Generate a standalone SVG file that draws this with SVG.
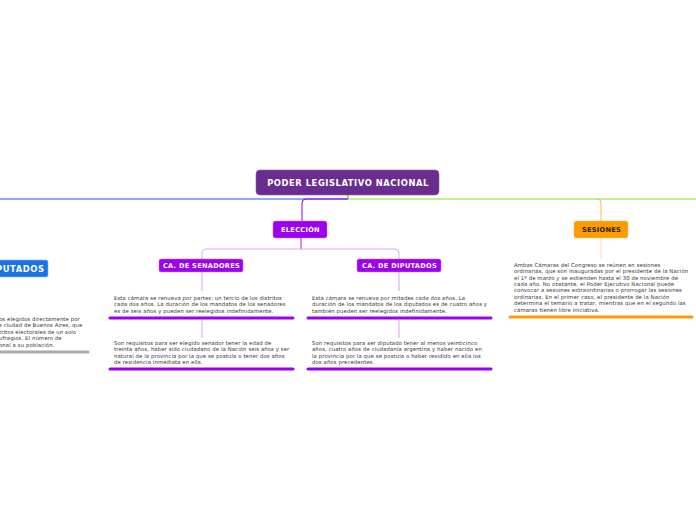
<svg xmlns="http://www.w3.org/2000/svg" width="696" height="520" viewBox="0 0 696 520">
<style>
.t{font-family:"DejaVu Sans","Liberation Sans",sans-serif;font-size:5.3px;letter-spacing:0.12px;fill:#333}
.h{font-family:"DejaVu Sans","Liberation Sans",sans-serif;font-weight:bold;text-anchor:middle}
.s{font-size:6.6px;letter-spacing:0.3px}
.c{fill:none;stroke-width:1}
</style>
<rect width="696" height="520" fill="#fff"/>
<g id="connectors">
<line x1="0" y1="199" x2="348" y2="199" stroke="#1f5ad8" stroke-width="1"/>
<line x1="348" y1="199" x2="696" y2="199" stroke="#86dc2a" stroke-width="1"/>
<line x1="348" y1="194" x2="348" y2="199" stroke="#8a9a2a" stroke-width="1"/>
<path class="c" d="M348 199 H306 Q302 199 302 203 V221" stroke="#9a00ee"/>
<path class="c" d="M597 199 Q601 199 601 203 V221" stroke="#ffb84a"/>
<line x1="301" y1="238" x2="301" y2="249" stroke="#a020f0"/>
<path class="c" d="M301 249 H206 Q202 249 202 253 V259 M301 249 H395 Q399 249 399 253 V259" stroke="#dca8fa"/>
<path class="c" d="M202 272 V291 M202 320 V338 M399 272 V291 M399 320 V338" stroke="#d4a6f6"/>
<line x1="601" y1="238" x2="601" y2="259" stroke="#ffdca6"/>
</g>
<g id="main">
<rect x="256" y="170" width="183" height="25" rx="4" fill="#682d8f" stroke="#8a5aad" stroke-width="0.6"/>
<text class="h" x="348" y="185.8" font-size="8.4" letter-spacing="0.55" fill="#fff">PODER LEGISLATIVO NACIONAL</text>
</g>
<g id="eleccion">
<rect x="273" y="221" width="54" height="17" rx="2.5" fill="#9d00ee" stroke="#c070ff" stroke-width="0.5"/>
<text class="h s" x="300.5" y="232.2" fill="#fff">ELECCIÓN</text>
</g>
<g id="sesiones">
<rect x="574" y="221" width="54" height="17" rx="2.5" fill="#ff9a00" stroke="#ffc060" stroke-width="0.5"/>
<text class="h s" x="601.5" y="232.2" fill="#222">SESIONES</text>
</g>
<g id="senadores">
<rect x="159" y="259" width="84" height="13" rx="2" fill="#9d00ee" stroke="#c070ff" stroke-width="0.5"/>
<text class="h s" x="201.5" y="268" fill="#fff">CA. DE SENADORES</text>
</g>
<g id="diputados">
<rect x="357" y="259" width="84" height="13" rx="2" fill="#9d00ee" stroke="#c070ff" stroke-width="0.5"/>
<text class="h s" x="399.5" y="268" fill="#fff">CA. DE DIPUTADOS</text>
</g>
<g id="cam-diputados-left">
<rect x="-40" y="260" width="88" height="17" rx="2" fill="#1a72e6" stroke="#8ab8f4" stroke-width="0.6"/>
<text class="h" x="44.5" y="272" font-size="8.4" letter-spacing="0.55" fill="#fff" style="text-anchor:end">DIPUTADOS</text>
</g>
<g id="left-text">
<text class="t"><tspan x="-1" y="320.5">os elegidos directamente por</tspan><tspan x="-1" y="327">s ciudad de Buenos Aires, que</tspan><tspan x="-1" y="333.5">tritos electorales de un solo</tspan><tspan x="-1" y="340">ufragios. El número de</tspan><tspan x="-1" y="346.5">onal a su población.</tspan></text>
<line x1="0" y1="352" x2="88" y2="352" stroke="#aaa" stroke-width="3" stroke-linecap="round"/>
</g>
<g id="sen-1">
<text class="t"><tspan x="114" y="299.8">Esta cámara se renueva por partes: un tercio de los distritos</tspan><tspan x="114" y="306.3">cada dos años. La duración de los mandatos de los senadores</tspan><tspan x="114" y="312.8">es de seis años y pueden ser reelegidos indefinidamente.</tspan></text>
<line x1="110" y1="318" x2="293" y2="318" stroke="#9d00ee" stroke-width="3" stroke-linecap="round"/>
</g>
<g id="sen-2">
<text class="t"><tspan x="114" y="344.8">Son requisitos para ser elegido senador tener la edad de</tspan><tspan x="114" y="351.3">treinta años, haber sido ciudadano de la Nación seis años y ser</tspan><tspan x="114" y="357.8">natural de la provincia por la que se postula o tener dos años</tspan><tspan x="114" y="364.3">de residencia inmediata en ella.</tspan></text>
<line x1="110" y1="369" x2="293" y2="369" stroke="#9d00ee" stroke-width="3" stroke-linecap="round"/>
</g>
<g id="dip-1">
<text class="t"><tspan x="312" y="299.8">Esta cámara se renueva por mitades cada dos años. La</tspan><tspan x="312" y="306.3">duración de los mandatos de los diputados es de cuatro años y</tspan><tspan x="312" y="312.8">también pueden ser reelegidos indefinidamente.</tspan></text>
<line x1="308" y1="318" x2="491" y2="318" stroke="#9d00ee" stroke-width="3" stroke-linecap="round"/>
</g>
<g id="dip-2">
<text class="t"><tspan x="312" y="344.8">Son requisitos para ser diputado tener al menos veinticinco</tspan><tspan x="312" y="351.3">años, cuatro años de ciudadanía argentina y haber nacido en</tspan><tspan x="312" y="357.8">la provincia por la que se postula o haber residido en ella los</tspan><tspan x="312" y="364.3">dos años precedentes.</tspan></text>
<line x1="308" y1="369" x2="491" y2="369" stroke="#9d00ee" stroke-width="3" stroke-linecap="round"/>
</g>
<g id="ses-text">
<text class="t"><tspan x="514" y="266.8">Ambas Cámaras del Congreso se reúnen en sesiones</tspan><tspan x="514" y="273.2">ordinarias, que son inauguradas por el presidente de la Nación</tspan><tspan x="514" y="279.6">el 1º de marzo y se extienden hasta el 30 de noviembre de</tspan><tspan x="514" y="286">cada año. No obstante, el Poder Ejecutivo Nacional puede</tspan><tspan x="514" y="292.4">convocar a sesiones extraordinarias o prorrogar las sesiones</tspan><tspan x="514" y="298.8">ordinarias. En el primer caso, el presidente de la Nación</tspan><tspan x="514" y="305.2">determina el temario a tratar, mientras que en el segundo las</tspan><tspan x="514" y="311.6">cámaras tienen libre iniciativa.</tspan></text>
<line x1="510" y1="317" x2="692" y2="317" stroke="#ff9a00" stroke-width="3" stroke-linecap="round"/>
</g>
</svg>
